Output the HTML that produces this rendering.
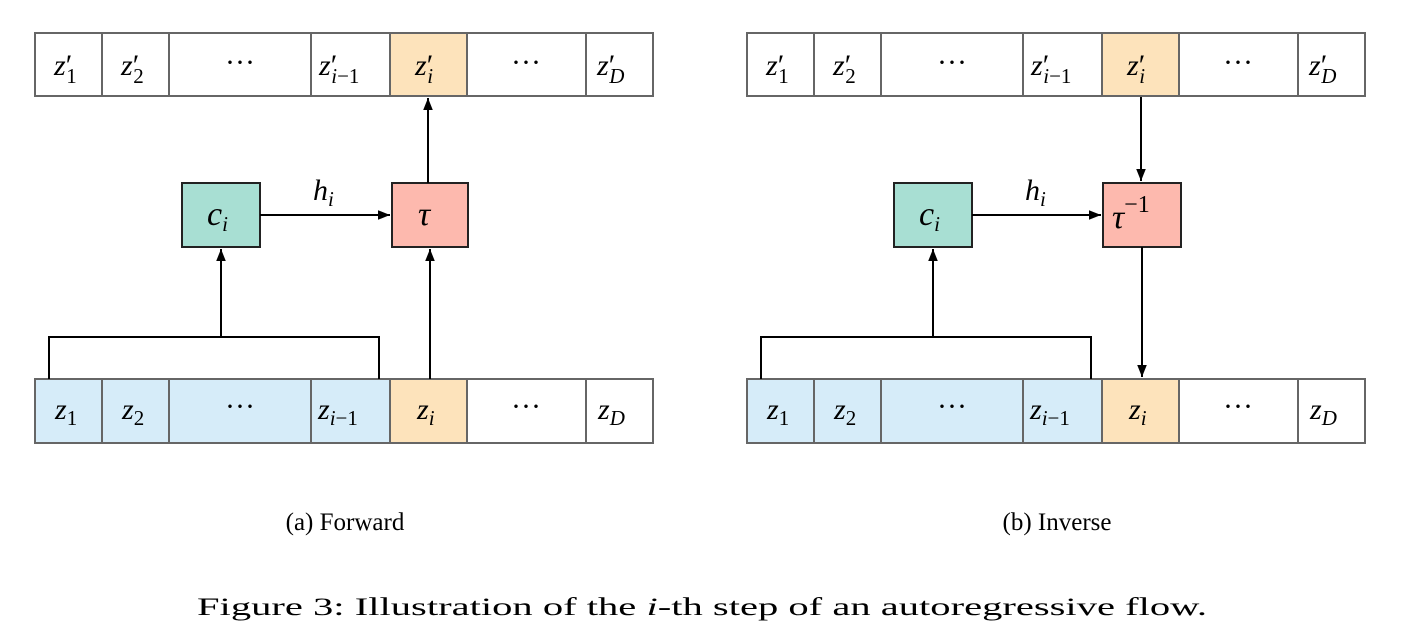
<!DOCTYPE html>
<html><head><meta charset="utf-8"><style>
html,body{margin:0;padding:0;background:#fff;width:1404px;height:644px;overflow:hidden}
svg{display:block}
.m{font-family:"Liberation Serif",serif;font-style:italic;font-size:30px;fill:#000}
.r{font-family:"Liberation Serif",serif;font-style:normal}
.s{font-size:21px}
.cap{font-family:"Liberation Serif",serif;font-size:25px;fill:#000}
</style></head><body>
<svg width="1404" height="644" viewBox="0 0 1404 644" xmlns="http://www.w3.org/2000/svg">
<defs>
<marker id="a" viewBox="0 0 10 10" refX="10" refY="5" markerWidth="12" markerHeight="12" markerUnits="userSpaceOnUse" orient="auto"><path d="M0,1 L10,5 L0,9 z" fill="#000"/></marker>
</defs>

<!-- ===== Panel A ===== -->
<g stroke="#666" stroke-width="2">
<rect x="35" y="33" width="618" height="63" fill="#fff"/>
<rect x="390" y="33" width="77" height="63" fill="#fde3bb"/>
<line x1="102" y1="33" x2="102" y2="96"/><line x1="169" y1="33" x2="169" y2="96"/>
<line x1="311" y1="33" x2="311" y2="96"/><line x1="586" y1="33" x2="586" y2="96"/>
<rect x="35" y="379" width="355" height="64" fill="#d6ecf9"/>
<rect x="390" y="379" width="77" height="64" fill="#fde3bb"/>
<rect x="467" y="379" width="186" height="64" fill="#fff"/>
<line x1="102" y1="379" x2="102" y2="443"/><line x1="169" y1="379" x2="169" y2="443"/>
<line x1="311" y1="379" x2="311" y2="443"/><line x1="586" y1="379" x2="586" y2="443"/>
</g>
<rect x="182" y="183" width="78" height="64" fill="#a8dfd3" stroke="#222" stroke-width="2"/>
<rect x="392" y="183" width="76" height="64" fill="#fdb9ae" stroke="#222" stroke-width="2"/>
<g stroke="#000" stroke-width="2" fill="none">
<polyline points="49,379 49,337 379,337 379,379"/>
<line x1="221" y1="337" x2="221" y2="249" marker-end="url(#a)"/>
<line x1="430" y1="379" x2="430" y2="249" marker-end="url(#a)"/>
<line x1="428" y1="183" x2="428" y2="98" marker-end="url(#a)"/>
<line x1="260" y1="215" x2="390" y2="215" marker-end="url(#a)"/>
</g>
<g class="m">
<text x="54" y="75">z<tspan class="r">′</tspan><tspan class="r s" dx="-6" dy="8">1</tspan></text>
<text x="121" y="75">z<tspan class="r">′</tspan><tspan class="r s" dx="-6" dy="8">2</tspan></text>
<text x="240" y="72" text-anchor="middle" class="r">···</text>
<text x="319" y="75">z<tspan class="r">′</tspan><tspan class="s" dx="-6" dy="8">i</tspan><tspan class="r s">−1</tspan></text>
<text x="415" y="75">z<tspan class="r">′</tspan><tspan class="s" dx="-6" dy="8">i</tspan></text>
<text x="526" y="72" text-anchor="middle" class="r">···</text>
<text x="597" y="75">z<tspan class="r">′</tspan><tspan class="s" dx="-6" dy="8">D</tspan></text>
<text x="55" y="419">z<tspan class="r s" dy="6">1</tspan></text>
<text x="122" y="419">z<tspan class="r s" dy="6">2</tspan></text>
<text x="240" y="416" text-anchor="middle" class="r">···</text>
<text x="318" y="419">z<tspan class="s" dy="6">i</tspan><tspan class="r s">−1</tspan></text>
<text x="417" y="419">z<tspan class="s" dy="6">i</tspan></text>
<text x="526" y="416" text-anchor="middle" class="r">···</text>
<text x="598" y="419">z<tspan class="s" dy="6">D</tspan></text>
<text x="207" y="225" font-size="34">c<tspan class="s" dy="6">i</tspan></text>
<text x="418" y="225" font-size="34">τ</text>
<text x="313" y="200">h<tspan class="s" dy="6">i</tspan></text>
</g>

<!-- ===== Panel B ===== -->
<g transform="translate(712,0)">
<g stroke="#666" stroke-width="2">
<rect x="35" y="33" width="618" height="63" fill="#fff"/>
<rect x="390" y="33" width="77" height="63" fill="#fde3bb"/>
<line x1="102" y1="33" x2="102" y2="96"/><line x1="169" y1="33" x2="169" y2="96"/>
<line x1="311" y1="33" x2="311" y2="96"/><line x1="586" y1="33" x2="586" y2="96"/>
<rect x="35" y="379" width="355" height="64" fill="#d6ecf9"/>
<rect x="390" y="379" width="77" height="64" fill="#fde3bb"/>
<rect x="467" y="379" width="186" height="64" fill="#fff"/>
<line x1="102" y1="379" x2="102" y2="443"/><line x1="169" y1="379" x2="169" y2="443"/>
<line x1="311" y1="379" x2="311" y2="443"/><line x1="586" y1="379" x2="586" y2="443"/>
</g>
<rect x="182" y="183" width="78" height="64" fill="#a8dfd3" stroke="#222" stroke-width="2"/>
<rect x="391" y="183" width="78" height="64" fill="#fdb9ae" stroke="#222" stroke-width="2"/>
<g stroke="#000" stroke-width="2" fill="none">
<polyline points="49,379 49,337 379,337 379,379"/>
<line x1="221" y1="337" x2="221" y2="249" marker-end="url(#a)"/>
<line x1="429" y1="97" x2="429" y2="181" marker-end="url(#a)"/>
<line x1="430" y1="247" x2="430" y2="377" marker-end="url(#a)"/>
<line x1="260" y1="215" x2="389" y2="215" marker-end="url(#a)"/>
</g>
<g class="m">
<text x="54" y="75">z<tspan class="r">′</tspan><tspan class="r s" dx="-6" dy="8">1</tspan></text>
<text x="121" y="75">z<tspan class="r">′</tspan><tspan class="r s" dx="-6" dy="8">2</tspan></text>
<text x="240" y="72" text-anchor="middle" class="r">···</text>
<text x="319" y="75">z<tspan class="r">′</tspan><tspan class="s" dx="-6" dy="8">i</tspan><tspan class="r s">−1</tspan></text>
<text x="415" y="75">z<tspan class="r">′</tspan><tspan class="s" dx="-6" dy="8">i</tspan></text>
<text x="526" y="72" text-anchor="middle" class="r">···</text>
<text x="597" y="75">z<tspan class="r">′</tspan><tspan class="s" dx="-6" dy="8">D</tspan></text>
<text x="55" y="419">z<tspan class="r s" dy="6">1</tspan></text>
<text x="122" y="419">z<tspan class="r s" dy="6">2</tspan></text>
<text x="240" y="416" text-anchor="middle" class="r">···</text>
<text x="318" y="419">z<tspan class="s" dy="6">i</tspan><tspan class="r s">−1</tspan></text>
<text x="417" y="419">z<tspan class="s" dy="6">i</tspan></text>
<text x="526" y="416" text-anchor="middle" class="r">···</text>
<text x="598" y="419">z<tspan class="s" dy="6">D</tspan></text>
<text x="207" y="225" font-size="34">c<tspan class="s" dy="6">i</tspan></text>
<text x="400" y="228" font-size="34">τ<tspan class="r" font-size="24" dy="-16">−1</tspan></text>
<text x="313" y="200">h<tspan class="s" dy="6">i</tspan></text>
</g>
</g>

<text class="cap" x="345" y="530" text-anchor="middle">(a) Forward</text>
<text class="cap" x="1057" y="530" text-anchor="middle">(b) Inverse</text>
<text class="cap" x="197" y="615" textLength="1010" lengthAdjust="spacingAndGlyphs">Figure 3: Illustration of the <tspan font-style="italic">i</tspan>-th step of an autoregressive flow.</text>
</svg>
</body></html>
